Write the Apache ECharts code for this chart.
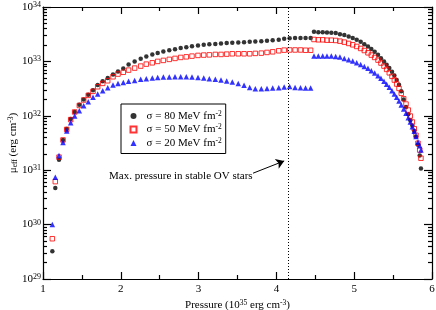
<!DOCTYPE html>
<html><head><meta charset="utf-8">
<script src="https://cdn.jsdelivr.net/npm/echarts@6/dist/echarts.min.js"></script>
<style>html,body{margin:0;padding:0;background:#fff}#c{width:436px;height:310px}</style>
</head><body><div id="c"></div>
<script>
// Pressure (10^35 erg cm^-3) of each point
const pressure = [
  1.12, 1.158, 1.206, 1.257, 1.305, 1.356, 1.407, 1.467, 1.523, 1.582,
  1.643, 1.703, 1.767, 1.832, 1.90, 1.964, 2.032, 2.10, 2.178, 2.256,
  2.328, 2.405, 2.474, 2.547, 2.623, 2.697, 2.77, 2.842, 2.915, 2.992,
  3.066, 3.138, 3.215, 3.288, 3.361, 3.433, 3.51, 3.584, 3.657, 3.729,
  3.806, 3.879, 3.952, 4.03, 4.10, 4.17, 4.24, 4.31, 4.375, 4.44,
  4.483, 4.539, 4.595, 4.650, 4.706, 4.762, 4.817, 4.873, 4.929, 4.981,
  5.032, 5.083, 5.130, 5.177, 5.220, 5.263, 5.306, 5.344, 5.383, 5.417,
  5.451, 5.486, 5.516, 5.546, 5.576, 5.605, 5.636, 5.666, 5.695, 5.721,
  5.747, 5.772, 5.794, 5.820, 5.842, 5.858
];
// log10 of mu_eff (erg cm^-3)
const logMu80 = [
  29.51, 30.675, 31.19, 31.556, 31.758, 31.94, 32.07, 32.204, 32.30, 32.387,
  32.47, 32.565, 32.633, 32.693, 32.76, 32.816, 32.87, 32.945, 33.0, 33.05,
  33.09, 33.125, 33.155, 33.18, 33.205, 33.225, 33.245, 33.262, 33.278, 33.292,
  33.305, 33.315, 33.322, 33.33, 33.336, 33.342, 33.348, 33.354, 33.36, 33.366,
  33.372, 33.378, 33.388, 33.40, 33.415, 33.425, 33.43, 33.43, 33.43, 33.43,
  33.543, 33.538, 33.538, 33.532, 33.525, 33.52, 33.50, 33.483, 33.459, 33.428,
  33.397, 33.36, 33.317, 33.275, 33.226, 33.176, 33.121, 33.06, 33.0, 32.938,
  32.877, 32.81, 32.743, 32.66, 32.57, 32.45, 32.30, 32.16, 32.03, 31.92,
  31.82, 31.72, 31.62, 31.47, 31.27, 31.03
];
const logMu50 = [
  29.74, 30.79, 31.24, 31.556, 31.75, 31.93, 32.07, 32.19, 32.29, 32.376,
  32.45, 32.534, 32.596, 32.644, 32.717, 32.767, 32.80, 32.84, 32.877, 32.914,
  32.95, 32.974, 33.0, 33.018, 33.037, 33.055, 33.073, 33.084, 33.097, 33.11,
  33.116, 33.12, 33.128, 33.128, 33.134, 33.14, 33.14, 33.14, 33.14, 33.147,
  33.152, 33.165, 33.176, 33.195, 33.207, 33.21, 33.21, 33.21, 33.205, 33.205,
  33.403, 33.397, 33.397, 33.39, 33.39, 33.385, 33.372, 33.354, 33.33, 33.305,
  33.275, 33.238, 33.20, 33.158, 33.116, 33.073, 33.024, 32.97, 32.914, 32.853,
  32.79, 32.725, 32.657, 32.584, 32.504, 32.413, 32.314, 32.216, 32.106, 31.996,
  31.886, 31.763, 31.642, 31.495, 31.37, 31.22
];
const logMu20 = [
  30.0, 30.87, 31.27, 31.51, 31.72, 31.873, 31.996, 32.094, 32.185, 32.259,
  32.34, 32.40, 32.46, 32.516, 32.565, 32.596, 32.614, 32.633, 32.651, 32.67,
  32.68, 32.694, 32.706, 32.712, 32.712, 32.717, 32.717, 32.717, 32.712, 32.706,
  32.694, 32.68, 32.67, 32.657, 32.64, 32.62, 32.596, 32.56, 32.52, 32.497,
  32.497, 32.504, 32.51, 32.516, 32.53, 32.54, 32.52, 32.515, 32.51, 32.51,
  33.097, 33.097, 33.097, 33.097, 33.097, 33.092, 33.079, 33.055, 33.03, 33.006,
  32.974, 32.945, 32.908, 32.872, 32.828, 32.785, 32.736, 32.688, 32.633, 32.578,
  32.523, 32.46, 32.40, 32.34, 32.27, 32.198, 32.125, 32.046, 31.965, 31.886,
  31.80, 31.716, 31.62, 31.52, 31.45, 31.37
];
const seriesNames = ['σ = 80 MeV fm^-2', 'σ = 50 MeV fm^-2', 'σ = 20 MeV fm^-2'];
const yTickExponents = [29, 30, 31, 32, 33, 34];
const xTickLabels = [1, 2, 3, 4, 5, 6];
const maxStablePressure = 4.15;
const annotationText = 'Max. pressure in stable OV stars';
const arrowFrom = [3.70, 30.945];
const arrowTo = [4.10, 31.17];

const FONT = 'Liberation Serif';
const minorY = [];
for (let k = yTickExponents[0]; k < yTickExponents[yTickExponents.length - 1]; k++) {
  for (let m = 2; m <= 9; m++) minorY.push(k + Math.log10(m));
}
const axisLineStyle = { color: '#000', width: 1.2 };
function supName(n) {
  const parts = n.split('^');
  return '{n|' + parts[0] + '}{s|' + parts[1] + '}';
}
const supRich = {
  n: { fontFamily: FONT, fontSize: 11, lineHeight: 12, color: '#000' },
  s: { fontFamily: FONT, fontSize: 7.5, lineHeight: 5, verticalAlign: 'top', color: '#000' }
};
function mkSeries(name, vals, sym, size, style) {
  return {
    name: name, type: 'scatter', symbol: sym, symbolSize: size,
    xAxisIndex: 0, yAxisIndex: 0,
    data: pressure.map((p, i) => [p, vals[i]]),
    itemStyle: style, silent: true
  };
}
const s80 = mkSeries(seriesNames[0], logMu80, 'circle', 4.5, { color: '#000' });
const s50 = mkSeries(seriesNames[1], logMu50, 'rect', 4.5, { color: 'rgba(255,255,255,0)', borderColor: '#ff0000', borderWidth: 1 });
const s20 = mkSeries(seriesNames[2], logMu20, 'triangle', 5.5, { color: '#0000ff' });
s80.markLine = {
  silent: true, symbol: 'none', label: { show: false },
  lineStyle: { type: [1, 2], color: '#000', width: 1 },
  data: [{ xAxis: maxStablePressure }]
};
s50.markLine = {
  silent: true, symbol: ['none', 'arrow'], symbolSize: 8, label: { show: false },
  lineStyle: { type: 'solid', color: '#000', width: 1 },
  data: [[{ coord: arrowFrom }, { coord: arrowTo }]]
};

const yMin = yTickExponents[0], yMax = yTickExponents[yTickExponents.length - 1];
const xMin = xTickLabels[0], xMax = xTickLabels[xTickLabels.length - 1];
function yAx(pos, major, labels) {
  return {
    type: 'value', position: pos, min: yMin, max: yMax, interval: 1,
    axisLine: { show: major, lineStyle: axisLineStyle },
    splitLine: { show: false },
    axisTick: major ? { show: true, inside: true, length: 8, lineStyle: axisLineStyle }
                    : { show: true, inside: true, length: 4, customValues: minorY, lineStyle: axisLineStyle },
    axisLabel: labels ? {
      show: true, margin: 2,
      formatter: v => '{b|10}{s|' + v + '}',
      rich: {
        b: { fontFamily: FONT, fontSize: 11, lineHeight: 12, color: '#000' },
        s: { fontFamily: FONT, fontSize: 8, lineHeight: 5, verticalAlign: 'top', color: '#000' }
      }
    } : { show: false }
  };
}
function xAx(pos, labels) {
  return {
    type: 'value', position: pos, min: xMin, max: xMax, interval: 1,
    axisLine: { show: true, lineStyle: axisLineStyle },
    splitLine: { show: false },
    axisTick: { show: true, inside: true, length: 7, lineStyle: axisLineStyle },
    minorTick: { show: true, splitNumber: 2, length: 4, lineStyle: axisLineStyle },
    axisLabel: labels ? { show: true, margin: 5, fontFamily: FONT, fontSize: 11, color: '#000' } : { show: false }
  };
}
const xa0 = xAx('bottom', true);
xa0.name = '{n|Pressure (10}{s|35}{n| erg cm}{s|-3}{n|)}';
xa0.nameLocation = 'middle';
xa0.nameGap = 20;
xa0.nameMoveOverlap = false;
xa0.nameTextStyle = { rich: {
  n: { fontFamily: FONT, fontSize: 11, lineHeight: 12, color: '#000' },
  s: { fontFamily: FONT, fontSize: 7.5, lineHeight: 5, verticalAlign: 'top', color: '#000' } } };
const ya0 = yAx('left', true, true);
ya0.name = '{n|μ}{b|eff}{n| (erg cm}{s|-3}{n|)}';
ya0.nameLocation = 'middle';
ya0.nameGap = 24;
ya0.nameMoveOverlap = false;
ya0.nameTextStyle = { rich: {
  n: { fontFamily: FONT, fontSize: 11, lineHeight: 12, color: '#000' },
  b: { fontFamily: FONT, fontSize: 7.5, lineHeight: 6, verticalAlign: 'bottom', color: '#000' },
  s: { fontFamily: FONT, fontSize: 7.5, lineHeight: 5, verticalAlign: 'top', color: '#000' } } };

const chart = echarts.init(document.getElementById('c'), null, { renderer: 'canvas' });
chart.setOption({
  animation: false,
  backgroundColor: '#fff',
  grid: { left: 43, right: 4, top: 7, bottom: 31, outerBoundsMode: 'none' },
  xAxis: [xa0, xAx('top', false)],
  yAxis: [ya0, yAx('left', false, false), yAx('right', true, false), yAx('right', false, false)],
  legend: {
    data: seriesNames, orient: 'vertical', left: 121, top: 104,
    padding: [6, 4, 5, 8.5], itemGap: 2, itemWidth: 6, itemHeight: 6,
    borderColor: '#000', borderWidth: 1, borderRadius: 0,
    selectedMode: false,
    formatter: supName,
    textStyle: { padding: [0, 0, 0, 5], rich: supRich }
  },
  graphic: [{
    type: 'text', left: 109, top: 171, silent: true,
    style: { text: annotationText, font: '11px "Liberation Serif"', fill: '#000' }
  }],
  series: [s80, s50, s20]
});
</script></body></html>
